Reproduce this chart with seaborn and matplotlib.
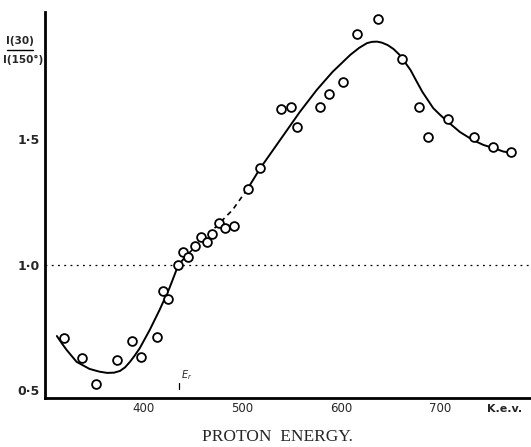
import matplotlib
matplotlib.use("Agg")
import matplotlib.pyplot as plt
import seaborn as sns
import pandas as pd
from matplotlib.ticker import MultipleLocator, FixedLocator

# measured points (proton energy in keV, ratio I(30)/I(150))
energy_pts = [319, 337, 352, 373, 388, 397, 413, 419, 425, 435, 440, 445,
              452, 458, 464, 469, 476, 482, 491, 505, 518,
              539, 549, 555, 578, 587, 602, 616, 637, 661, 679, 688,
              708, 734, 754, 772]
ratio_pts = [0.709, 0.63, 0.526, 0.62, 0.697, 0.633, 0.713, 0.896, 0.865, 1.0, 1.05, 1.03,
             1.076, 1.112, 1.092, 1.124, 1.167, 1.147, 1.155, 1.303, 1.386,
             1.62, 1.63, 1.55, 1.63, 1.68, 1.73, 1.92, 1.98, 1.82, 1.63, 1.51,
             1.58, 1.51, 1.47, 1.45]

# hand-drawn curve
curve_e = [312, 317, 322, 332, 345, 355, 363, 370, 376, 381, 386, 391, 396, 406, 416, 426, 435, 445,
           460, 475, 490, 505,
           518, 538, 558, 575, 591, 609, 618, 626, 631, 636, 641, 647, 653, 659, 664, 670, 676, 682,
           693, 700, 708, 720, 733, 744, 754, 764, 774]
curve_r = [0.717, 0.688, 0.661, 0.614, 0.586, 0.575, 0.570, 0.571, 0.578, 0.592, 0.614, 0.640, 0.669,
           0.741, 0.821, 0.908, 1.0, 1.045,
           1.10, 1.16, 1.22, 1.303,
           1.386, 1.498, 1.61, 1.697, 1.769, 1.837, 1.865, 1.884, 1.889, 1.890, 1.886, 1.876,
           1.860, 1.837, 1.810, 1.777, 1.733, 1.690,
           1.625, 1.598, 1.57, 1.53, 1.498, 1.478, 1.466, 1.452, 1.446]

x_major = [400, 500, 600, 700]
x_minor = [350, 450, 550, 650, 750]
y_major = [0.5, 1.0, 1.5]
y_labels = ["0·5", "1·0", "1·5"]

sns.set_style("white")
plt.rcParams["font.family"] = ["DejaVu Sans"]

fig = plt.figure(figsize=(5.31, 4.47), dpi=100)
ax = fig.add_axes([45 / 531, 1 - 398 / 447, 1 - 45 / 531, (398 - 12) / 447])

curve = pd.DataFrame({"e": curve_e, "r": curve_r})
seg1 = curve[curve.e <= 445]
seg2 = curve[(curve.e >= 445) & (curve.e <= 505)]
seg3 = curve[curve.e >= 505]
sns.lineplot(data=seg1, x="e", y="r", ax=ax, color="black", lw=1.4, sort=False)
sns.lineplot(data=seg2, x="e", y="r", ax=ax, color="black", lw=1.2, sort=False,
             linestyle=(0, (3, 2.5)))
sns.lineplot(data=seg3, x="e", y="r", ax=ax, color="black", lw=1.4, sort=False)

ax.axhline(1.0, color="black", lw=0.9, linestyle=(0, (1.5, 3.5)))

pts = pd.DataFrame({"e": energy_pts, "r": ratio_pts})
sns.scatterplot(data=pts, x="e", y="r", ax=ax, marker="o", s=40,
                facecolor="white", edgecolor="black", linewidth=1.3, zorder=5)

ax.set_xlim(300, 792)
ax.set_ylim(0.47, 2.008)

for side in ["top", "right"]:
    ax.spines[side].set_visible(False)
for side in ["left", "bottom"]:
    ax.spines[side].set_linewidth(2)
    ax.spines[side].set_color("black")

ax.xaxis.set_major_locator(FixedLocator(x_major))
ax.xaxis.set_minor_locator(FixedLocator(x_minor))
ax.set_xticklabels([str(v) for v in x_major])
ax.yaxis.set_major_locator(FixedLocator(y_major))
ax.yaxis.set_minor_locator(MultipleLocator(0.1))
ax.set_yticklabels(y_labels, fontweight="bold")
ax.tick_params(which="both", direction="in", color="black", width=1.2)
ax.tick_params(axis="x", which="major", length=5, pad=3, labelsize=8.5)
ax.tick_params(axis="x", which="minor", length=4)
ax.tick_params(axis="y", which="major", length=5, pad=4, labelsize=9)
ax.tick_params(axis="y", which="minor", length=4)
ax.set_xlabel("")
ax.set_ylabel("")

# resonance energy mark
ax.plot([436, 436], [0.505, 0.53], color="black", lw=0.9)
ax.text(438, 0.535, "$E_r$", fontsize=7, ha="left", va="bottom")

fig.text(505 / 531, 1 - 409 / 447, "K.e.v.", fontsize=8, fontweight="bold",
         ha="center", va="center")
fig.text(277 / 531, 1 - 437 / 447, "PROTON  ENERGY.", fontsize=12.5,
         family="Liberation Serif", ha="center", va="center")

# y-axis ratio label, written as a fraction
fig.text(20 / 531, 1 - 41 / 447, "I(30)", fontsize=7.5, fontweight="bold",
         ha="center", va="center")
fig.add_artist(plt.Line2D([7 / 531, 33 / 531], [1 - 50 / 447, 1 - 50 / 447],
                          color="black", lw=1.0))
fig.text(23 / 531, 1 - 60 / 447, "I(150°)", fontsize=7.5, fontweight="bold",
         ha="center", va="center")

fig.savefig("out.png", dpi=100)
